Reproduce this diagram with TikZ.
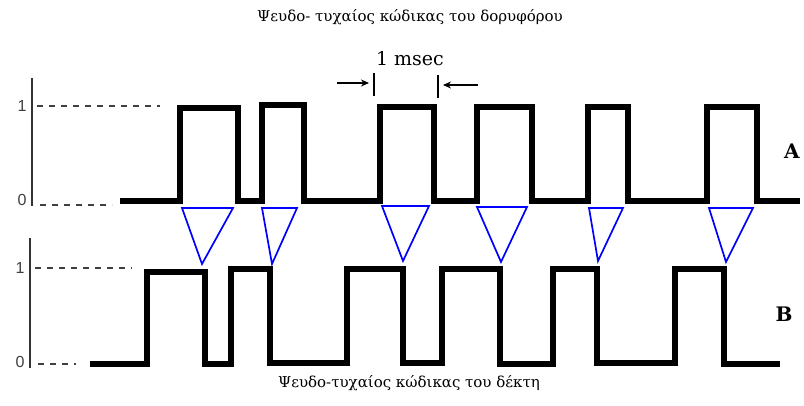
\documentclass[tikz,border=0pt]{standalone}
\usepackage{fontspec}
\setmainfont{DejaVu Serif}
\newfontfamily\labfont{Liberation Sans}
\usetikzlibrary{arrows.meta}
\begin{document}
\begin{tikzpicture}[x=1pt,y=-1pt,
  signal/.style={line width=5.5pt, line join=miter, black},
  axisline/.style={line width=1.8pt, black!80},
  guide/.style={line width=1.7pt, black!75, dash pattern=on 6pt off 6pt},
  tri/.style={blue, line width=1.7pt, line join=miter},
  lvl/.style={font=\labfont\fontsize{16}{16}\selectfont, text=black!75, inner sep=0pt},
  caption/.style={font=\fontsize{15}{18}\selectfont, inner sep=0pt},
  sig/.style={font=\bfseries\fontsize{20}{20}\selectfont, inner sep=0pt},
  tick/.style={line width=1.6pt, black},
  msarrow/.style={line width=1.6pt, -{Stealth[length=8pt,width=7pt]}}
]
\useasboundingbox (0,0) rectangle (804,406);
\fill[white] (0,0) rectangle (804,406);

% titles
\node[caption] (title) at (410,17) {Ψευδο- τυχαίος κώδικας του δορυφόρου};
\node[caption] (bottom) at (409,383) {Ψευδο-τυχαίος κώδικας του δέκτη};

% axes A
\coordinate (axAt) at (32,78);
\coordinate (axAb) at (32,206);
\draw[axisline] (axAt) -- (axAb);
\node[lvl] (a1) at (22,106) {1};
\node[lvl] (a0) at (22,200) {0};
\coordinate (ga1s) at (37,106); \coordinate (ga1e) at (160,106);
\coordinate (ga0s) at (40,205); \coordinate (ga0e) at (112,205);
\draw[guide] (ga1s) -- (ga1e);
\draw[guide] (ga0s) -- (ga0e);

% axes B
\coordinate (axBt) at (30,238);
\coordinate (axBb) at (30,368);
\draw[axisline] (axBt) -- (axBb);
\node[lvl] (b1) at (20,268) {1};
\node[lvl] (b0) at (20,362) {0};
\coordinate (gb1s) at (35,268); \coordinate (gb1e) at (132,268);
\coordinate (gb0s) at (38,364); \coordinate (gb0e) at (76,364);
\draw[guide] (gb1s) -- (gb1e);
\draw[guide] (gb0s) -- (gb0e);

% signal A
\draw[signal] (120,201) -- (180,201) -- (180,108) -- (238,108) -- (238,201)
  -- (262,201) -- (262,105) -- (304,105) -- (304,201)
  -- (380,201) -- (380,107) -- (434,107) -- (434,201)
  -- (477,201) -- (477,107) -- (532,107) -- (532,201)
  -- (588,201) -- (588,107) -- (628,107) -- (628,201)
  -- (707,201) -- (707,107) -- (757,107) -- (757,201) -- (800,201);

% signal B
\draw[signal] (90,364) -- (147,364) -- (147,272) -- (205,272) -- (205,364)
  -- (231,364) -- (231,269) -- (270,269) -- (270,363)
  -- (347,363) -- (347,269) -- (403,269) -- (403,363)
  -- (442,363) -- (442,269) -- (500,269) -- (500,364)
  -- (553,364) -- (553,269) -- (597,269) -- (597,363)
  -- (675,363) -- (675,269) -- (724,269) -- (724,364) -- (780,364);

% triangles
\coordinate (t1l) at (182,208); \coordinate (t1r) at (233,208); \coordinate (t1b) at (202,264);
\coordinate (t2l) at (262,208); \coordinate (t2r) at (297,208); \coordinate (t2b) at (272,264);
\coordinate (t3l) at (382,206); \coordinate (t3r) at (429,206); \coordinate (t3b) at (403,261);
\coordinate (t4l) at (477,207); \coordinate (t4r) at (527,207); \coordinate (t4b) at (501,262);
\coordinate (t5l) at (589,208); \coordinate (t5r) at (623,208); \coordinate (t5b) at (598,261);
\coordinate (t6l) at (709,208); \coordinate (t6r) at (753,208); \coordinate (t6b) at (726,262);
\foreach \i in {1,...,6} {\draw[tri] (t\i l) -- (t\i r) -- (t\i b) -- cycle;}

% 1 msec
\node[font=\fontsize{19}{19}\selectfont, inner sep=0pt] (ms) at (410,59) {1 msec};
\coordinate (k1t) at (374,73); \coordinate (k1b) at (374,96);
\coordinate (k2t) at (438,75); \coordinate (k2b) at (438,98);
\draw[tick] (k1t) -- (k1b);
\draw[tick] (k2t) -- (k2b);
\coordinate (ar1s) at (337,83); \coordinate (ar1e) at (369,83);
\coordinate (ar2s) at (478,85); \coordinate (ar2e) at (443,85);
\draw[msarrow] (ar1s) -- (ar1e);
\draw[msarrow] (ar2s) -- (ar2e);

% signal names
\node[sig] (A) at (792,151) {A};
\node[sig] (B) at (784,314) {B};
\end{tikzpicture}
\end{document}
